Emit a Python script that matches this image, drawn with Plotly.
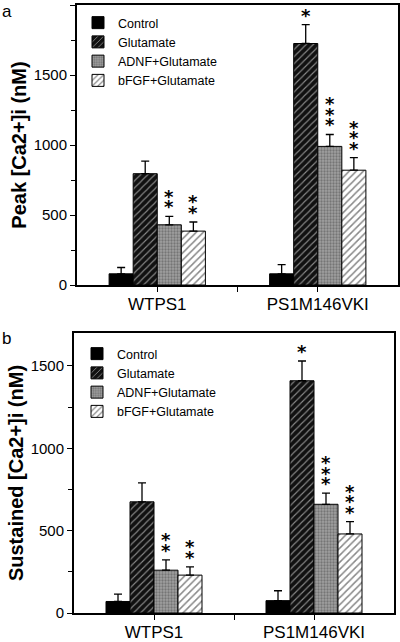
import plotly.graph_objects as go

groups = ["WTPS1", "PS1M146VKI"]
series = ["Control", "Glutamate", "ADNF+Glutamate", "bFGF+Glutamate"]

# Panel a: Peak [Ca2+]i (nM)
peak_mean = {
    "Control": [80, 80],
    "Glutamate": [795, 1725],
    "ADNF+Glutamate": [430, 990],
    "bFGF+Glutamate": [385, 820],
}
peak_err = {
    "Control": [45, 65],
    "Glutamate": [90, 135],
    "ADNF+Glutamate": [60, 85],
    "bFGF+Glutamate": [65, 90],
}
peak_sig = {
    "Control": ["", ""],
    "Glutamate": ["", "*"],
    "ADNF+Glutamate": ["**", "***"],
    "bFGF+Glutamate": ["**", "***"],
}

# Panel b: Sustained [Ca2+]i (nM)
sus_mean = {
    "Control": [70, 75],
    "Glutamate": [675, 1410],
    "ADNF+Glutamate": [260, 660],
    "bFGF+Glutamate": [230, 480],
}
sus_err = {
    "Control": [45, 60],
    "Glutamate": [115, 120],
    "ADNF+Glutamate": [62, 68],
    "bFGF+Glutamate": [50, 75],
}
sus_sig = {
    "Control": ["", ""],
    "Glutamate": ["", "*"],
    "ADNF+Glutamate": ["**", "***"],
    "bFGF+Glutamate": ["**", "***"],
}

group_pos = [1, 3]
bar_w = 0.3
FONT = "Liberation Sans, Arial, sans-serif"

styles = {
    "Control": dict(color="black"),
    "Glutamate": dict(color="black", pattern=dict(shape="/", fgcolor="white", bgcolor="#111111", size=5, solidity=0.22)),
    "ADNF+Glutamate": dict(color="#8c8c8c", pattern=dict(shape=".", fgcolor="#4a4a4a", bgcolor="#a0a0a0", size=3, solidity=0.45)),
    "bFGF+Glutamate": dict(color="white", pattern=dict(shape="/", fgcolor="#111111", bgcolor="white", size=5, solidity=0.3)),
}

fig = go.Figure()
annotations = []

def add_panel(means, errs, sigs, xa, ya, legend):
    for i, s in enumerate(series):
        off = -2 * bar_w + i * bar_w
        fig.add_trace(go.Bar(
            x=group_pos, y=means[s], name=s, width=bar_w, offset=off,
            marker=dict(line=dict(color="black", width=1), **styles[s]),
            error_y=dict(type="data", array=errs[s], arrayminus=[0] * len(errs[s]),
                         symmetric=False, color="black", thickness=1.3, width=4),
            xaxis=xa, yaxis=ya, legend=legend,
        ))
        for g, txt in enumerate(sigs[s]):
            for k in range(len(txt)):
                annotations.append(dict(
                    x=group_pos[g] + off + bar_w / 2, y=means[s][g] + errs[s][g],
                    xref=xa, yref=ya, text="*", showarrow=False,
                    yanchor="bottom", yshift=-3 + 10.5 * k,
                    font=dict(family="DejaVu Sans", size=18, color="black", weight="bold"),
                ))

add_panel(peak_mean, peak_err, peak_sig, "x", "y", "legend")
add_panel(sus_mean, sus_err, sus_sig, "x2", "y2", "legend2")

W, H = 400, 642
def dom_x(a, b):
    return [a / W, b / W]
def dom_y(top, bottom):
    return [1 - bottom / H, 1 - top / H]

axis_common = dict(showline=True, linecolor="black", mirror=True, showgrid=False,
                   zeroline=False, ticks="outside", tickcolor="black", ticklen=5,
                   tickwidth=1.3, automargin=False)

fig.update_layout(
    width=W, height=H, margin=dict(l=0, r=0, t=0, b=0),
    paper_bgcolor="white", plot_bgcolor="white",
    barmode="overlay", font=dict(family=FONT, color="black"),
    xaxis=dict(domain=dom_x(77, 398), range=[0, 4], anchor="y", tickvals=group_pos, ticktext=groups,
               tickfont=dict(size=17), linewidth=1.5, ticklabelstandoff=-2,
               minor=dict(tickvals=[2], ticks="outside", ticklen=5, tickcolor="black"), **axis_common),
    yaxis=dict(domain=dom_y(5, 285), range=[0, 2000], anchor="x", dtick=500, tickfont=dict(size=15),
               linewidth=2, title=dict(text="<b>Peak [Ca2+]i (nM)</b>", font=dict(size=20), standoff=2),
               minor=dict(dtick=250, ticks="outside", ticklen=4, tickcolor="black"), **axis_common),
    xaxis2=dict(domain=dom_x(74, 394), range=[0, 4], anchor="y2", tickvals=group_pos, ticktext=groups,
                tickfont=dict(size=17), linewidth=1.5, ticklabelstandoff=-2,
                minor=dict(tickvals=[2], ticks="outside", ticklen=5, tickcolor="black"), **axis_common),
    yaxis2=dict(domain=dom_y(333, 613), range=[0, 1700], anchor="x2", tickvals=[0, 500, 1000, 1500],
                tickfont=dict(size=15), linewidth=2,
                title=dict(text="<b>Sustained [Ca2+]i (nM)</b>", font=dict(size=20), standoff=2),
                minor=dict(tickvals=[250, 750, 1250], ticks="outside", ticklen=4, tickcolor="black"), **axis_common),
    legend=dict(x=78 / W, y=1 - 8 / H, xanchor="left", yanchor="top", bgcolor="rgba(0,0,0,0)",
                font=dict(size=12.5), tracegroupgap=0, itemwidth=30),
    legend2=dict(x=77 / W, y=1 - 339 / H, xanchor="left", yanchor="top", bgcolor="rgba(0,0,0,0)",
                 font=dict(size=12.5), tracegroupgap=0, itemwidth=30),
    showlegend=True,
)

annotations.append(dict(x=0 / W, y=1 - 0 / H, xref="paper", yref="paper", text="a", showarrow=False,
                        xanchor="left", yanchor="top", font=dict(size=17)))
annotations.append(dict(x=0 / W, y=1 - 327 / H, xref="paper", yref="paper", text="b", showarrow=False,
                        xanchor="left", yanchor="top", font=dict(size=17)))
fig.update_layout(annotations=annotations)

fig.write_html("out.html", config={"displayModeBar": False},
               post_script="document.body.style.margin='0';")
